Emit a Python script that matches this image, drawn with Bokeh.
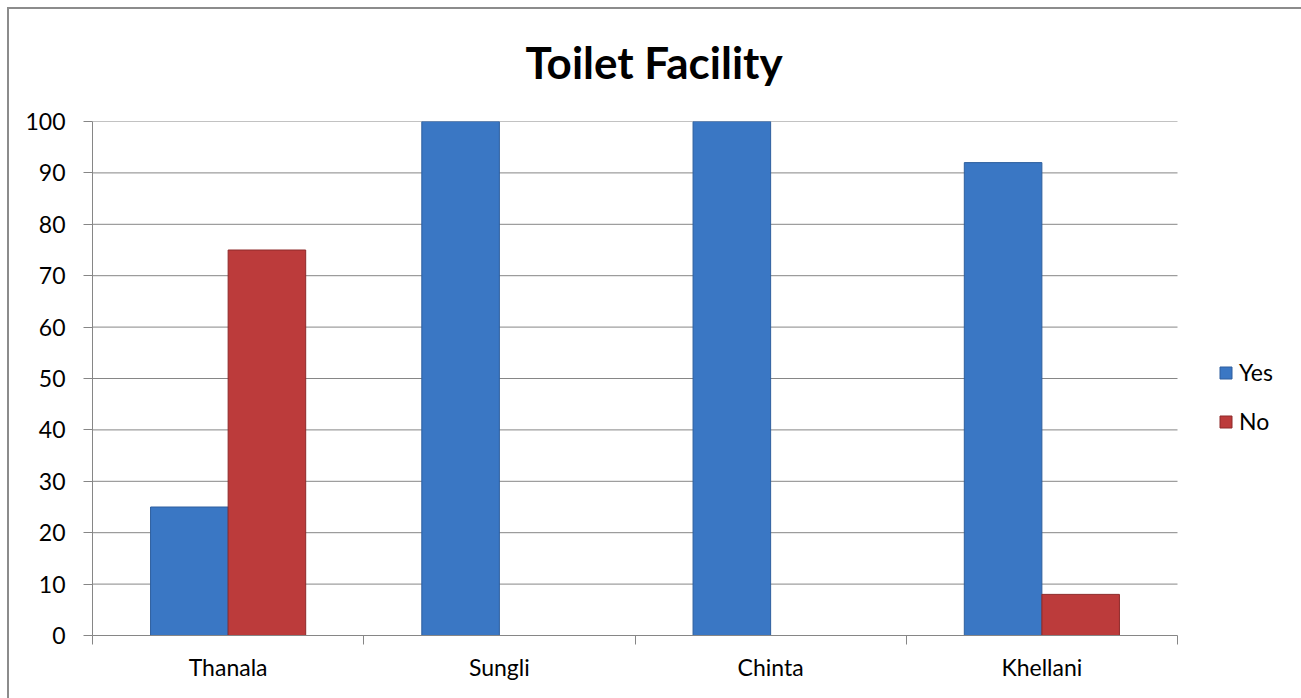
from bokeh.plotting import figure
from bokeh.models import (ColumnDataSource, FixedTicker, Legend, LegendItem,
                          InlineStyleSheet)
from bokeh.embed import file_html
from bokeh.resources import INLINE

# ---- data ----
categories = ["Thanala", "Sungli", "Chinta", "Khellani"]
yes_values = [25, 100, 100, 92]
no_values = [75, 0, 0, 8]
y_ticks = [0, 10, 20, 30, 40, 50, 60, 70, 80, 90, 100]
title_text = "Toilet Facility"
series_names = ["Yes", "No"]

FONT = "Lato"
GRAY = "#868686"
BLUE = "#3A77C4"
BLUE_EDGE = "#2E5F9E"
RED = "#BC3B3B"
RED_EDGE = "#8E2A2A"

n = len(categories)
centers = [i + 0.5 for i in range(n)]
bw = 0.286
off = 0.143
# plot area spans 92..1177 px for the categories; frame extended to 1301 for the legend
x_end = n * (1301 - 92) / (1177 - 92)

src = ColumnDataSource(dict(
    x_yes=[c - off for c in centers],
    x_no=[c + off for c in centers],
    yes=yes_values,
    no=no_values,
))
grid_src = ColumnDataSource(dict(
    y=[t for t in y_ticks if t > 0],
    x0=[0] * (len(y_ticks) - 1),
    x1=[n] * (len(y_ticks) - 1),
))

border_css = InlineStyleSheet(css="""
:host::after {
  content: '';
  position: absolute;
  left: 7px; top: 7px; right: -20px; bottom: -20px;
  border: 2px solid #8c8c8c;
  pointer-events: none;
}
""")

p = figure(width=1301, height=698, output_backend="svg", toolbar_location=None,
           x_range=(0, x_end), y_range=(0, 100),
           min_border_left=92, min_border_right=0,
           min_border_top=121, min_border_bottom=63,
           title=title_text, stylesheets=[border_css])
p.title.align = "left"
p.title.offset = 433
p.title.text_font = FONT
p.title.text_font_size = "44px"
p.title.text_font_style = "bold"
p.title.text_color = "black"
p.title.standoff = 67
p.outline_line_color = None
p.background_fill_color = "white"
p.border_fill_color = "white"

# gridlines (limited to the category area)
p.xgrid.visible = False
p.ygrid.visible = False
p.segment(x0="x0", x1="x1", y0="y", y1="y", source=grid_src,
          line_color=GRAY, line_width=1)

r_yes = p.vbar(x="x_yes", top="yes", width=bw, bottom=0, source=src,
               fill_color=BLUE, line_color=BLUE_EDGE, line_width=1)
r_no = p.vbar(x="x_no", top="no", width=bw, bottom=0, source=src,
              fill_color=RED, line_color=RED_EDGE, line_width=1)

# y axis
ya = p.yaxis[0]
ya.ticker = FixedTicker(ticks=y_ticks)
ya.axis_line_color = GRAY
ya.major_tick_line_color = GRAY
ya.major_tick_out = 9
ya.major_tick_in = 0
ya.minor_tick_line_color = None
ya.major_label_text_font = FONT
ya.major_label_text_font_size = "23px"
ya.major_label_text_color = "black"
ya.major_label_standoff = 18

# x axis: labels at category centers, ticks at boundaries
xa = p.xaxis[0]
xa.bounds = (0, n)
xa.ticker = FixedTicker(ticks=centers, minor_ticks=list(range(n + 1)))
xa.major_label_overrides = {c: cat for c, cat in zip(centers, categories)}
xa.axis_line_color = GRAY
xa.major_tick_line_color = None
xa.major_tick_out = 0
xa.major_tick_in = 0
xa.minor_tick_line_color = GRAY
xa.minor_tick_out = 9
xa.minor_tick_in = 0
xa.major_label_text_font = FONT
xa.major_label_text_font_size = "23px"
xa.major_label_text_color = "black"
xa.major_label_standoff = 8

# legend placed inside the extended frame, right of the bars
legend = Legend(items=[LegendItem(label=series_names[0], renderers=[r_yes]),
                       LegendItem(label=series_names[1], renderers=[r_no])],
                location=(1126, 200), orientation="vertical",
                glyph_width=15, glyph_height=15, label_height=20,
                spacing=21, padding=0, margin=0, label_standoff=6,
                label_text_font=FONT, label_text_font_size="23px",
                label_text_color="black",
                border_line_color=None, background_fill_alpha=0)
p.add_layout(legend, "center")

open("out.html", "w").write(file_html(p, INLINE))
